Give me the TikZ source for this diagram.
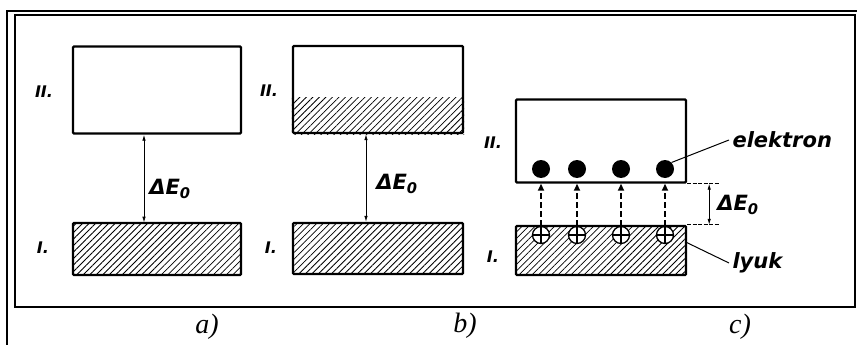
\documentclass[tikz,border=0pt]{standalone}
\usepackage{fontspec}
\setmainfont{Liberation Serif}
\setsansfont{DejaVu Sans}
\usetikzlibrary{arrows.meta,patterns.meta,calc}

\begin{document}
\begin{tikzpicture}[x=1pt, y=-1pt,
	band/.style={draw, line width=2.4pt, rounded corners=1pt, inner sep=0pt},
	hatched/.style={pattern={Lines[angle=45, distance=4.6pt, line width=0.8pt]}},
	gap/.style={{Latex[length=6pt,width=3.5pt]}-{Latex[length=6pt,width=3.5pt]}, line width=0.8pt},
	jump/.style={-{Triangle[length=7pt,width=6pt]}, line width=2.2pt, dash pattern=on 6pt off 3pt},
	guide/.style={line width=0.7pt, dash pattern=on 4pt off 1.5pt},
	electron/.style={circle, fill, minimum size=18pt, inner sep=0pt},
	hole/.style={circle, draw, fill=white, line width=1.3pt, minimum size=17pt, inner sep=0pt,
		path picture={\draw[line width=1.5pt] (path picture bounding box.north) -- (path picture bounding box.south)
			(path picture bounding box.west) -- (path picture bounding box.east);}},
	level/.style={font=\sffamily\bfseries\itshape\fontsize{16}{16}\selectfont},
	tag/.style={font=\sffamily\bfseries\itshape\fontsize{21}{21}\selectfont},
	caption/.style={font=\itshape\fontsize{28}{28}\selectfont}]
	
	\useasboundingbox (0,0) rectangle (857,345);
	\draw[line width=2.2pt] (7,345) -- (7,11) -- (857,11);
	\draw[line width=2.4pt] (15,15) rectangle (855,307);
	
	\node[band, minimum width=168pt, minimum height=87pt] (a2) at (157,90) {};
	\node[band, hatched, minimum width=168pt, minimum height=52pt] (a1) at (157,249) {};
	\draw[gap] ($(a2.south)+(-13,0)$) -- ($(a1.north)+(-13,0)$);
	\node[tag] (aE) at (170,189) {ΔE\textsubscript{0}};
	\node[level] (aII) at (44,92) {II.};
	\node[level] (aI) at (43,248) {I.};
	
	\node[band, minimum width=170pt, minimum height=87pt] (b2) at (378,89.5) {};
	\fill[hatched] (b2.south west) rectangle ($(b2.east)+(0,7.5)$);
	\node[band, hatched, minimum width=170pt, minimum height=51pt] (b1) at (378,248.5) {};
	\draw[gap] ($(b2.south)+(-12,0)$) -- ($(b1.north)+(-12,0)$);
	\node[tag] (bE) at (397,184) {ΔE\textsubscript{0}};
	\node[level] (bII) at (269,91) {II.};
	\node[level] (bI) at (271,248) {I.};
	
	\node[band, minimum width=170pt, minimum height=83pt] (c2) at (601,141) {};
	\node[band, hatched, minimum width=170pt, minimum height=49pt] (c1) at (601,250.5) {};
	\node[electron] (e1) at (541,169) {};
	\node[electron] (e2) at (577,169) {};
	\node[electron] (e3) at (621,169) {};
	\node[electron] (e4) at (665,169) {};
	\node[hole] (h1) at (541,235) {};
	\node[hole] (h2) at (577,235) {};
	\node[hole] (h3) at (621,235) {};
	\node[hole] (h4) at (665,235) {};
	\draw[jump] (h1.north) -- (h1 |- c2.south);
	\draw[jump] (h2.north) -- (h2 |- c2.south);
	\draw[jump] (h3.north) -- (h3 |- c2.south);
	\draw[jump] (h4.north) -- (h4 |- c2.south);
	\coordinate (g2) at ($(c2.south east)+(32,0)$);
	\coordinate (g1) at ($(c1.north east)+(32,0)$);
	\draw[guide] (c2.south east) -- (g2);
	\draw[guide] (c1.north east) -- (g1);
	\draw[gap] ($(g2)+(-10,0)$) -- ($(g1)+(-10,0)$);
	\node[tag] (cE) at (738,205) {ΔE\textsubscript{0}};
	\node[level] (cII) at (493,143) {II.};
	\node[level] (cI) at (493,257) {I.};
	\node[tag, anchor=west] (el) at (729,140) {elektron};
	\node[tag, anchor=west] (ly) at (729,263) {lyuk};
	\draw[line width=1pt] (e4.north east) -- (el.west);
	\draw[line width=1pt] ($(c1.north east)+(-2,17)$) -- (ly.west);
	
	\node[caption] (ca) at (207,327) {a)};
	\node[caption] (cb) at (465,326) {b)};
	\node[caption] (cc) at (740,327) {c)};
\end{tikzpicture}
\end{document}
